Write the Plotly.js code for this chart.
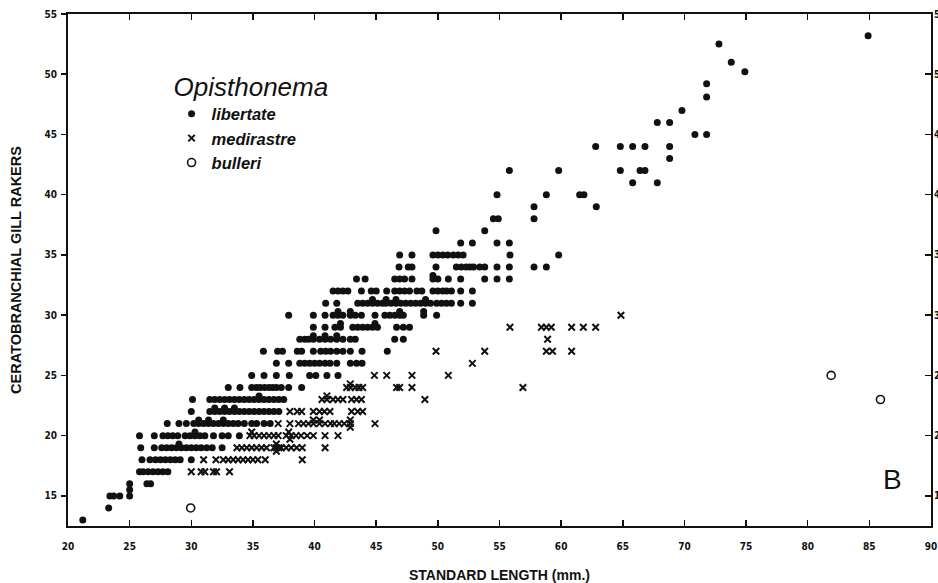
<!DOCTYPE html>
<html>
<head>
<meta charset="utf-8">
<script src="https://cdn.plot.ly/plotly-3.0.1.min.js"></script>
<style>
  html, body { margin: 0; padding: 0; background: #ffffff; }
  #chart { width: 938px; height: 583px; }
</style>
</head>
<body>
<div id="chart"></div>
<script>
// Ceratobranchial gill rakers against standard length (mm) for three Opisthonema species.
// Each row: [gill raker count, [standard lengths of fish with that count]]
const libertateRows = [
  [13, [21.2]],
  [14, [23.3]],
  [15, [23.4, 23.7, 24.2, 25.0]],
  [16, [25.0, 26.4, 26.7]],
  [17, [25.8, 26.1, 26.5, 26.9, 27.3, 27.7, 28.1]],
  [18, [26.0, 26.65, 27.1, 27.5, 27.9, 28.3, 28.7, 29.1, 30.0]],
  [19, [25.9, 27.0, 27.6, 28.0, 28.4, 28.8, 29.2, 29.6, 30.0, 30.4, 30.8, 31.25, 31.7, 32.5]],
  [20, [25.8, 27.0, 27.7, 28.1, 28.5, 28.9, 29.5, 29.9, 30.3, 30.7, 31.1, 31.8, 32.5, 33.0, 33.9]],
  [21, [28.05, 29.0, 29.6, 30.2, 30.6, 31.0, 31.4, 31.8, 32.2, 32.6, 33.0, 33.4, 33.8, 34.3, 34.9, 35.3, 35.9, 36.4]],
  [22, [30.0, 31.5, 31.9, 32.3, 32.7, 33.1, 33.5, 33.9, 34.3, 34.7, 35.1, 35.5, 35.9, 36.3, 36.7, 37.1]],
  [23, [30.1, 31.5, 31.9, 32.3, 32.7, 33.1, 33.5, 33.9, 34.3, 34.7, 35.1, 35.5, 35.9, 36.3, 36.7, 37.1, 37.5]],
  [24, [33.0, 33.95, 34.9, 35.3, 35.6, 35.95, 36.3, 36.6, 36.9, 37.3, 37.9, 38.95]],
  [25, [34.9, 35.9, 36.9, 37.95, 39.6, 40.1, 41.0, 41.9]],
  [26, [36.9, 37.9, 38.8, 39.2, 39.6, 40.0, 40.4, 40.85, 41.25, 41.8, 42.9, 43.4, 43.85]],
  [27, [35.85, 37.0, 37.4, 38.6, 38.95, 39.9, 40.5, 40.9, 41.3, 41.8, 42.3, 42.9, 43.85, 45.9]],
  [28, [38.8, 39.2, 39.5, 39.9, 40.4, 40.85, 41.3, 41.8, 42.3, 42.9, 43.3, 46.5, 47.2]],
  [29, [39.9, 40.85, 41.65, 42.1, 43.1, 43.5, 43.9, 44.3, 44.7, 45.1, 46.65, 47.2, 47.7]],
  [30, [37.9, 39.9, 40.85, 41.5, 41.9, 42.3, 42.9, 43.3, 43.8, 44.9, 45.7, 46.1, 46.5, 46.9, 47.2, 48.85, 49.9]],
  [31, [40.9, 41.8, 43.5, 43.9, 44.3, 44.7, 45.1, 45.5, 45.8, 46.2, 46.6, 47.0, 47.4, 47.8, 48.2, 48.6, 49.0, 49.4, 49.9, 50.3, 50.7, 51.1, 51.85, 52.8]],
  [32, [41.5, 41.9, 42.3, 42.7, 43.8, 44.6, 45.0, 45.85, 46.5, 46.9, 47.3, 47.7, 48.3, 48.7, 49.6, 50.0, 50.4, 50.7, 51.1, 51.85, 52.8]],
  [33, [43.4, 44.1, 46.5, 46.9, 47.3, 47.9, 49.6, 50.0, 50.85, 51.85, 53.8, 54.8, 55.8]],
  [34, [46.85, 47.6, 47.9, 49.85, 51.5, 51.9, 52.3, 52.6, 52.9, 53.4, 53.8, 54.8, 55.8, 57.8, 58.8]],
  [35, [46.9, 47.9, 49.6, 50.0, 50.4, 50.8, 51.25, 51.65, 52.05, 55.85, 59.8]],
  [36, [51.85, 52.8, 54.8, 55.8]],
  [37, [49.85, 53.8]],
  [38, [54.5, 54.9, 57.8]],
  [39, [57.8, 62.85]],
  [40, [54.8, 58.8, 61.5, 61.85]],
  [41, [65.8, 67.8]],
  [42, [55.8, 59.8, 64.8, 66.4, 66.8]],
  [43, [68.8]],
  [44, [62.8, 64.8, 65.8, 66.8, 68.8]],
  [45, [70.85, 71.8]],
  [46, [67.8, 68.8]],
  [47, [69.8]],
  [48.1, [71.8]],
  [49.2, [71.8]],
  [50.2, [74.9]],
  [51, [73.8]],
  [52.5, [72.8]],
  [53.2, [84.9]]
];

// Fish plotted on top of one another (heavier blobs in the plot)
const libertateStackX = [25.0, 29.0, 30.3, 30.6, 31.4, 32.6, 31.9, 32.7, 33.5, 35.5, 41.9, 42.9, 46.9, 48.85, 42.1, 44.9, 39.9, 40.85, 41.8, 44.7, 45.8, 46.6, 49.0, 49.6];
const libertateStackY = [15.5, 19.3, 20.3, 21.3, 21.3, 21.3, 22.3, 22.3, 22.3, 23.3, 30.3, 30.3, 30.3, 30.3, 29.3, 29.3, 28.3, 28.3, 28.3, 31.3, 31.3, 31.3, 31.3, 33.3];

const medirastreRows = [
  [17, [30.0, 30.8, 31.1, 31.8, 32.05, 33.1]],
  [18, [31.0, 32.0, 32.6, 33.0, 33.4, 33.8, 34.2, 34.6, 35.0, 35.4, 36.0, 39.0]],
  [19, [33.7, 34.1, 34.5, 34.9, 35.3, 35.7, 36.1, 36.9, 37.3, 37.7, 38.1, 38.55, 39.0, 40.85]],
  [20, [34.75, 35.1, 35.5, 35.9, 36.3, 36.7, 37.05, 37.7, 38.1, 38.5, 38.9, 39.4, 39.9, 40.85, 41.9]],
  [21, [37.05, 38.0, 38.7, 39.1, 39.5, 39.9, 40.4, 40.85, 41.3, 41.6, 42.0, 42.4, 42.9, 44.9]],
  [22, [38.0, 38.6, 38.95, 39.9, 40.4, 40.8, 41.25, 43.0, 43.5, 43.9]],
  [23, [40.6, 41.0, 41.5, 41.9, 42.3, 43.0, 43.4, 43.8, 48.95]],
  [24, [42.6, 42.9, 43.3, 43.6, 43.9, 46.65, 46.9, 47.9, 56.9]],
  [25, [44.85, 45.85, 47.9, 50.85]],
  [26, [52.8]],
  [27, [49.85, 53.8, 58.8, 59.3, 60.85]],
  [28, [58.9]],
  [29, [55.85, 58.4, 58.8, 59.2, 60.85, 61.8, 62.8]],
  [30, [64.85]]
];

const medirastreStackX = [36.9, 36.9, 37.1, 36.7, 37.9, 38.0, 34.9, 39.9, 42.9, 42.9, 40.4, 41.0, 42.9];
const medirastreStackY = [18.7, 19.3, 19.0, 19.0, 20.3, 19.7, 20.3, 21.3, 21.3, 20.7, 21.3, 23.3, 24.3];

const bulleriLength = [29.95, 81.9, 85.9];
const bulleriRakers = [14, 25, 23];

const xTicks = [20, 25, 30, 35, 40, 45, 50, 55, 60, 65, 70, 75, 80, 85, 90];
const yTicks = [15, 20, 25, 30, 35, 40, 45, 50, 55];

function flatten(rows, extraX, extraY) {
  const xs = [], ys = [];
  rows.forEach(([count, lengths]) => {
    lengths.forEach(len => { xs.push(len); ys.push(count); });
  });
  extraX.forEach((v, i) => { xs.push(v); ys.push(extraY[i]); });
  return { xs, ys };
}

const lib = flatten(libertateRows, libertateStackX, libertateStackY);
const med = flatten(medirastreRows, medirastreStackX, medirastreStackY);

const INK = '#111111';
const tickFont = { family: 'DejaVu Sans Condensed, DejaVu Sans, sans-serif', size: 10, weight: 'bold', color: INK };
const xTitleFont = { family: 'Liberation Sans, Arial, sans-serif', size: 14, weight: 'bold', color: INK };
const yTitleFont = { family: 'Liberation Sans, Arial, sans-serif', size: 14.5, weight: 'bold', color: INK };

const traces = [
  {
    x: lib.xs, y: lib.ys, type: 'scatter', mode: 'markers',
    name: '<b><i>libertate</i></b>',
    marker: { symbol: 'circle', size: 7, color: INK, line: { width: 0 } },
    hoverinfo: 'x+y'
  },
  {
    x: med.xs, y: med.ys, type: 'scatter', mode: 'markers',
    name: '<b><i>medirastre</i></b>',
    marker: { symbol: 'x-thin', size: 6.5, color: INK, line: { width: 2, color: INK } },
    hoverinfo: 'x+y'
  },
  {
    x: bulleriLength, y: bulleriRakers, type: 'scatter', mode: 'markers',
    name: '<b><i>bulleri</i></b>',
    marker: { symbol: 'circle-open', size: 8, color: INK, line: { width: 1.6, color: INK } },
    hoverinfo: 'x+y'
  },
  {
    // right-hand axis copy of the raker scale
    x: [20], y: [12.5], yaxis: 'y2', type: 'scatter', mode: 'markers',
    marker: { opacity: 0 }, showlegend: false, hoverinfo: 'skip'
  }
];

const layout = {
  width: 938, height: 583,
  margin: { l: 68, r: 7, t: 14, b: 57 },
  paper_bgcolor: '#ffffff', plot_bgcolor: '#ffffff',
  showlegend: true,
  legend: {
    x: 0.12, y: 0.905, xanchor: 'left', yanchor: 'top',
    bgcolor: 'rgba(0,0,0,0)', borderwidth: 0,
    font: { family: 'Liberation Sans, Arial, sans-serif', size: 16.5, color: INK },
    title: { text: '<i>Opisthonema</i>', side: 'top', font: { family: 'Liberation Sans, Arial, sans-serif', size: 26, color: INK } },
    itemwidth: 30, tracegroupgap: 0
  },
  xaxis: {
    range: [20, 90], tickvals: xTicks, ticktext: xTicks.map(String),
    ticks: 'inside', ticklen: 6, tickwidth: 1.5, tickcolor: INK,
    showline: true, linewidth: 2, linecolor: INK, mirror: 'ticks',
    showgrid: false, zeroline: false,
    tickfont: tickFont, ticklabelstandoff: 10,
    title: { text: 'STANDARD LENGTH (mm.)', font: xTitleFont, standoff: 20 }
  },
  yaxis: {
    range: [12.5, 55], tickvals: yTicks, ticktext: yTicks.map(String),
    ticks: 'outside', ticklen: 5, tickwidth: 1.5, tickcolor: INK,
    showline: true, linewidth: 2, linecolor: INK, mirror: true,
    showgrid: false, zeroline: false,
    tickfont: tickFont, ticklabelstandoff: 2,
    title: { text: 'CERATOBRANCHIAL GILL RAKERS', font: yTitleFont, standoff: 19 }
  },
  yaxis2: {
    overlaying: 'y', side: 'right', range: [12.5, 55],
    tickvals: yTicks, ticktext: yTicks.map(String),
    ticks: 'inside', ticklen: 6, tickwidth: 1.5, tickcolor: INK,
    showline: false, showgrid: false, zeroline: false,
    tickfont: tickFont, ticklabelstandoff: 2
  },
  annotations: [
    {
      text: 'B', xref: 'paper', yref: 'paper', x: 0.955, y: 0.09,
      xanchor: 'center', yanchor: 'middle', showarrow: false,
      font: { family: 'Liberation Sans, Arial, sans-serif', size: 28, color: INK }
    }
  ]
};

Plotly.newPlot('chart', traces, layout, { displayModeBar: false, staticPlot: true });
</script>
</body>
</html>
